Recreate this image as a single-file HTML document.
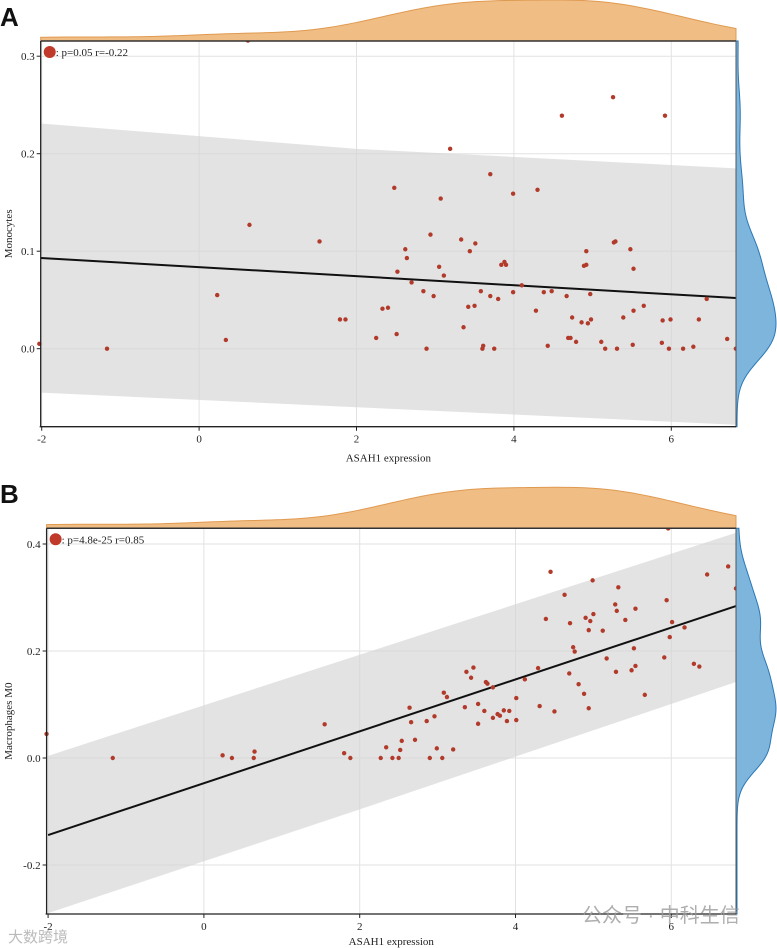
<!DOCTYPE html>
<html><head><meta charset="utf-8">
<style>
html,body{margin:0;padding:0;background:#fff;}
svg{display:block;font-family:"Liberation Serif",serif;}
</style></head>
<body>
<svg id="chart" width="777" height="948" viewBox="0 0 777 948"></svg>
<script>
// ---- Panel A data (Monocytes) ----
const aX = [0.62,5.26,4.61,5.92,3.19,3.70,2.48,4.30,3.99,3.07,0.64,2.94,1.53,3.33,3.51,5.29,5.27,2.62,5.48,3.44,4.92,2.64,3.88,3.90,3.84,4.92,4.89,3.05,5.52,2.52,3.11,2.70,4.10,2.85,3.58,3.99,4.38,4.48,0.23,2.98,3.70,3.80,4.67,4.97,6.45,2.40,2.33,3.42,3.50,5.65,4.28,5.52,3.36,4.74,5.39,1.79,1.86,4.98,4.86,4.94,5.89,5.99,6.35,2.25,2.51,4.69,4.72,4.79,5.11,6.71,0.34,-2.03,4.43,5.51,5.88,6.28,3.61,-1.17,2.89,3.60,3.75,5.16,5.31,5.97,6.15,6.82];
const aY = [0.316,0.258,0.239,0.239,0.205,0.179,0.165,0.163,0.159,0.154,0.127,0.117,0.110,0.112,0.108,0.110,0.109,0.102,0.102,0.100,0.100,0.093,0.089,0.086,0.086,0.086,0.085,0.084,0.082,0.079,0.075,0.068,0.065,0.059,0.059,0.058,0.058,0.059,0.055,0.054,0.054,0.051,0.054,0.056,0.051,0.042,0.041,0.043,0.044,0.044,0.039,0.039,0.022,0.032,0.032,0.030,0.030,0.030,0.027,0.026,0.029,0.030,0.030,0.011,0.015,0.011,0.011,0.007,0.007,0.010,0.009,0.005,0.003,0.004,0.006,0.002,0.003,0,0,0,0,0,0,0,0,0];
const aLineX = [-2.01, 6.82];
const aLineY = [0.093, 0.052];
const aBandX = [-2.01, 2, 6.82];
const aBandUpper = [0.231, 0.205, 0.185];
const aBandLower = [-0.045, -0.060, -0.078];
const aYTicks = [0.0, 0.1, 0.2, 0.3];
const aYTickLabels = ["0.0","0.1","0.2","0.3"];
const aLegend = ": p=0.05 r=-0.22";

// ---- Panel B data (Macrophages M0) ----
const bX = [5.96,6.73,4.45,6.46,4.99,4.63,6.83,5.32,5.28,5.30,5.54,5.94,5.00,4.39,4.90,4.96,5.41,4.70,6.01,6.17,4.94,5.12,5.98,4.74,4.76,5.52,5.91,5.17,6.29,6.36,5.54,5.49,5.29,4.29,3.46,3.37,3.43,4.69,4.12,3.62,3.64,4.81,3.71,3.08,3.12,4.88,5.66,4.01,3.52,3.35,2.64,4.31,4.94,3.60,3.85,3.92,4.50,3.77,3.80,3.71,2.96,3.89,4.01,2.86,2.66,3.52,1.55,2.71,2.54,2.99,2.34,3.20,2.52,0.65,1.80,0.24,-2.02,-1.17,0.36,0.64,1.88,2.27,2.42,2.50,2.90,3.06];
const bY = [0.429,0.358,0.348,0.343,0.332,0.305,0.317,0.319,0.287,0.275,0.279,0.295,0.269,0.260,0.262,0.256,0.258,0.252,0.254,0.244,0.239,0.238,0.226,0.207,0.199,0.205,0.188,0.186,0.176,0.171,0.172,0.164,0.161,0.168,0.169,0.161,0.150,0.158,0.147,0.142,0.139,0.138,0.132,0.122,0.114,0.120,0.118,0.112,0.101,0.095,0.094,0.097,0.093,0.088,0.089,0.088,0.087,0.082,0.079,0.075,0.078,0.069,0.071,0.069,0.067,0.064,0.063,0.034,0.032,0.018,0.020,0.016,0.015,0.012,0.009,0.005,0.045,0,0,0,0,0,0,0,0,0];
const bLineX = [-2.0, 6.83];
const bLineY = [-0.144, 0.284];
const bBandX = [-2.0, 2, 6.83];
const bBandUpper = [0.004, 0.193, 0.421];
const bBandLower = [-0.290, -0.096, 0.142];
const bYTicks = [-0.2, 0.0, 0.2, 0.4];
const bYTickLabels = ["-0.2","0.0","0.2","0.4"];
const bLegend = ": p=4.8e-25 r=0.85";

const xTicks = [-2, 0, 2, 4, 6];
const xTickLabels = ["-2","0","2","4","6"];

const NS = "http://www.w3.org/2000/svg";
const svg = document.getElementById('chart');
function mk(tag, attrs, parent){
  const e = document.createElementNS(NS, tag);
  for (const k in attrs) e.setAttribute(k, attrs[k]);
  (parent||svg).appendChild(e);
  return e;
}
function kde(vals, h, grid){
  return grid.map(g=>{let s=0;for(const v of vals){const u=(g-v)/h;s+=Math.exp(-0.5*u*u);}return s/(vals.length*h*Math.sqrt(2*Math.PI));});
}

function drawPanel(cfg){
  const g = mk('g', {});
  
  
  const sx = v => cfg.x0px + (v - (-2)) * cfg.xUnit;
  const sy = v => cfg.y0px - v * cfg.yUnit;
  const L = cfg.left, R = cfg.right, T = cfg.top, B = cfg.bottom;
  const xmin = (L - cfg.x0px)/cfg.xUnit - 2, xmax = (R - cfg.x0px)/cfg.xUnit - 2;
  const ymax = (cfg.y0px - T)/cfg.yUnit, ymin = (cfg.y0px - B)/cfg.yUnit;

  xTicks.forEach(t=>{
    const l = mk('line',{x1:sx(t),x2:sx(t),y1:T,y2:B,stroke:'#e2e2e2','stroke-width':1},g);
    
    
  });
  cfg.yTicks.forEach(t=>{
    const l = mk('line',{x1:L,x2:R,y1:sy(t),y2:sy(t),stroke:'#e2e2e2','stroke-width':1},g);
    
    
  });

  let d = cfg.bandX.map((x,i)=>(i?'L':'M')+sx(x)+','+sy(cfg.bandUpper[i])).join(' ');
  for (let i=cfg.bandX.length-1;i>=0;i--) d += ' L'+sx(cfg.bandX[i])+','+sy(cfg.bandLower[i]);
  const clipId = cfg.name+'-clip';
  const cp = mk('clipPath',{id:clipId},g);
  mk('rect',{x:L,y:T,width:R-L,height:B-T},cp);
  const band = mk('path',{d:d+' Z',fill:'#d4d4d4','fill-opacity':0.65,'clip-path':'url(#'+clipId+')'},g);
  
  

  const rl = mk('line',{x1:sx(cfg.lineX[0]),y1:sy(cfg.lineY[0]),x2:sx(cfg.lineX[1]),y2:sy(cfg.lineY[1]),stroke:'#111','stroke-width':2},g);
  
  

  cfg.xs.forEach((x,i)=>{
    const c = mk('circle',{cx:sx(x),cy:sy(cfg.ys[i]),r:2.2,fill:'#b23a2a'},g);
    
    
  });

  const gx=[]; for(let i=0;i<=120;i++) gx.push(xmin+(xmax-xmin)*i/120);
  const dx = kde(cfg.xs, 0.7, gx); const mx=Math.max(...dx);
  let pd = 'M'+sx(gx[0])+','+T;
  gx.forEach((x,i)=>{ pd+=' L'+sx(x)+','+(T-2-dx[i]/mx*(cfg.margH-2)); });
  pd += ' L'+sx(gx[gx.length-1])+','+T+' Z';
  const tm = mk('path',{d:pd,fill:'#f0bd85',stroke:'#e09a50','stroke-width':1},g);
  
  

  const gy=[]; for(let i=0;i<=120;i++) gy.push(ymin+(ymax-ymin)*i/120);
  const dy = kde(cfg.ys, cfg.yBw, gy); const my=Math.max(...dy);
  let pr = 'M'+R+','+sy(gy[0]);
  gy.forEach((y,i)=>{ pr+=' L'+(R+1+dy[i]/my*39)+','+sy(y); });
  pr += ' L'+R+','+sy(gy[gy.length-1])+' Z';
  const rm = mk('path',{d:pr,fill:'#7db5dd',stroke:'#2a78b8','stroke-width':1},g);
  
  

  mk('line',{x1:L,x2:R,y1:T,y2:T,stroke:'#333','stroke-width':1.5},g);
  mk('line',{x1:R,x2:R,y1:T,y2:B,stroke:'#555','stroke-width':1},g);
  const ya = mk('line',{x1:L,x2:L,y1:T,y2:B,stroke:'#222','stroke-width':1.3},g);
  
  
  const xa = mk('line',{x1:L-1,x2:R,y1:B,y2:B,stroke:'#222','stroke-width':1.3},g);
  
  

  xTicks.forEach((t,i)=>{
    mk('line',{x1:sx(t),x2:sx(t),y1:B,y2:B+4,stroke:'#222'},g);
    const tx = mk('text',{x:sx(t),y:B+16,'text-anchor':'middle','font-size':11,fill:'#222'},g);
    tx.textContent = xTickLabels[i];
    
    
  });
  cfg.yTicks.forEach((t,i)=>{
    mk('line',{x1:L-4,x2:L,y1:sy(t),y2:sy(t),stroke:'#222'},g);
    const tx = mk('text',{x:L-6,y:sy(t)+4,'text-anchor':'end','font-size':11,fill:'#222'},g);
    tx.textContent = cfg.yTickLabels[i];
    
    
  });

  const xt = mk('text',{x:(L+R)/2,y:B+cfg.titleOff,'text-anchor':'middle','font-size':11,fill:'#222'},g);
  xt.textContent = 'ASAH1 expression';
  
  
  const cy = (T+B)/2;
  const yt = mk('text',{x:12,y:cy,'text-anchor':'middle','font-size':11,fill:'#222',transform:'rotate(-90 12 '+cy+')'},g);
  yt.textContent = cfg.yTitle;
  
  

  const lc = mk('circle',{cx:L+9,cy:T+11,r:6,fill:'#c0392b'},g);
  
  
  const lt = mk('text',{x:L+15,y:T+15,'font-size':11,fill:'#222'},g);
  lt.textContent = cfg.legend;
  
  

  const pl = mk('text',{x:0,y:cfg.labelY,'font-size':26,'font-weight':'bold','font-family':'Liberation Sans, sans-serif',fill:'#111'},g);
  pl.textContent = cfg.panelLabel;
  
  
}

drawPanel({name:'panel-a',xs:aX,ys:aY,lineX:aLineX,lineY:aLineY,bandX:aBandX,bandUpper:aBandUpper,bandLower:aBandLower,
  yTicks:aYTicks,yTickLabels:aYTickLabels,legend:aLegend,yTitle:'Monocytes',panelLabel:'A',labelY:26,titleOff:35,
  x0px:41.7,xUnit:78.7,y0px:348.7,yUnit:975,left:40.7,right:736,top:41,bottom:426.7,margH:41,yBw:0.022});
drawPanel({name:'panel-b',xs:bX,ys:bY,lineX:bLineX,lineY:bLineY,bandX:bBandX,bandUpper:bBandUpper,bandLower:bBandLower,
  yTicks:bYTicks,yTickLabels:bYTickLabels,legend:bLegend,yTitle:'Macrophages M0',panelLabel:'B',labelY:503,titleOff:31,
  x0px:48.1,xUnit:77.9,y0px:758,yUnit:535,left:46.6,right:736,top:528.3,bottom:914,margH:41,yBw:0.035});

const wm = mk('text',{x:582,y:922,'font-size':20,fill:'#9a9a9a','fill-opacity':0.8,'font-family':'Liberation Sans, Noto Sans CJK SC, sans-serif'});
wm.textContent = '公众号 · 中科生信';


const wm2 = mk('text',{x:8,y:942,'font-size':15,fill:'#bbbbbb','font-family':'Liberation Sans, Noto Sans CJK SC, sans-serif'});
wm2.textContent = '大数跨境';


</script>
</body></html>
